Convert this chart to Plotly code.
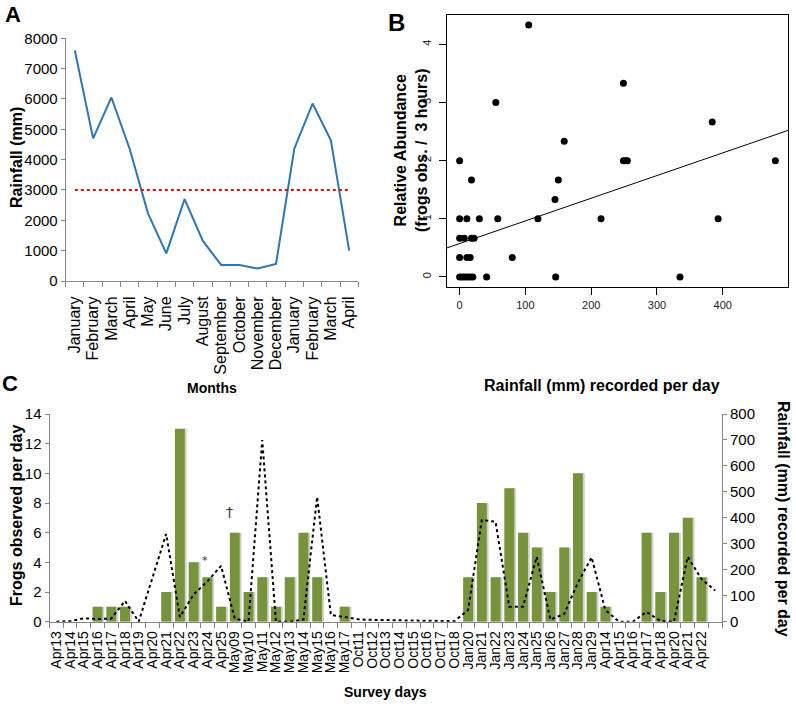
import plotly.graph_objects as go

W, H = 796, 711


def px(x):
    return x / W


def py(y):
    return 1 - y / H


# ---------------- Panel A data ----------------
months = ["January", "February", "March", "April", "May", "June", "July", "August",
          "September", "October", "November", "December", "January", "February", "March", "April"]
monthly_rain = [7600, 4700, 6050, 4350, 2230, 910, 2700, 1320, 530, 530, 410, 560, 4360, 5850, 4640, 1000]
rain_threshold = 3000

# ---------------- Panel B data ----------------
b_rain = [0, 0, 0, 0, 0, 4, 8, 12, 16, 20, 7, 11, 11, 16, 18, 18, 22, 30, 41, 55, 58, 80,
          105, 119, 145, 146, 150, 159, 215, 249, 249, 252, 255, 335, 384, 393, 480]
b_abund = [2, 1, 0.667, 0.333, 0, 0, 0, 0, 0, 0, 0.667, 1, 0.333, 0.333, 1.667, 0.667, 0.667, 1, 0, 3, 1, 0.333,
           4.333, 1, 1.333, 0, 1.667, 2.333, 1, 3.333, 2, 2, 2, 0, 2.667, 1, 2]
fit_intercept = 0.574
fit_slope = 0.0039
b_xticks = [0, 100, 200, 300, 400]
b_yticks = [0, 1, 2, 3, 4]

# ---------------- Panel C data ----------------
survey_days = ["Apr13", "Apr14", "Apr15", "Apr16", "Apr17", "Apr18", "Apr19", "Apr20", "Apr21", "Apr22",
               "Apr23", "Apr24", "Apr25", "May09", "May10", "May11", "May12", "May13", "May14", "May15",
               "May16", "May17", "Oct11", "Oct12", "Oct13", "Oct14", "Oct15", "Oct16", "Oct17", "Oct18",
               "Jan20", "Jan21", "Jan22", "Jan23", "Jan24", "Jan25", "Jan26", "Jan27", "Jan28", "Jan29",
               "Apr14", "Apr15", "Apr16", "Apr17", "Apr18", "Apr20", "Apr21", "Apr22"]
frogs_per_day = [0, 0, 0, 1, 1, 1, 0, 0, 2, 13, 4, 3, 1, 6, 2, 3, 1, 3, 6, 3, 0, 1,
                 0, 0, 0, 0, 0, 0, 0, 0,
                 3, 8, 3, 9, 6, 5, 2, 5, 10, 2,
                 1, 0, 0, 6, 2, 6, 7, 3]
# rainfall series has one extra (unlabelled) trailing point
rain_per_day = [0, 2, 13, 10, 12, 80, 0, 170, 338, 18, 105, 155, 215, 12, 0, 700, 0, 0, 8, 481, 26, 18,
                9, 7, 6, 4, 3, 2, 1, 2,
                45, 392, 385, 58, 58, 250, 8, 30, 150, 248,
                45, 0, 0, 38, 3, 0, 250, 165, 120]
marks = [("*", 10.83, 4.1), ("†", 12.58, 7.4)]

FONT = "Arial, Liberation Sans, sans-serif"
GRAY = "#868686"
GREEN = "#77933C"

fig = go.Figure()

# Panel A
xa = list(range(len(months)))
fig.add_trace(go.Scatter(x=xa, y=monthly_rain, mode="lines",
                         line=dict(color="#2E75B6", width=2), xaxis="x", yaxis="y", showlegend=False))
fig.add_trace(go.Scatter(x=[xa[0], xa[-1]], y=[rain_threshold, rain_threshold], mode="lines",
                         line=dict(color="#FF0000", width=2, dash="dot"), xaxis="x", yaxis="y",
                         showlegend=False))

# Panel B
bx_lo = min(b_rain) - 0.04 * (max(b_rain) - min(b_rain))
bx_hi = max(b_rain) + 0.04 * (max(b_rain) - min(b_rain))
by_lo = min(b_abund) - 0.04 * (max(b_abund) - min(b_abund))
by_hi = max(b_abund) + 0.04 * (max(b_abund) - min(b_abund))
fig.add_trace(go.Scatter(x=[bx_lo, bx_hi], y=[fit_intercept + fit_slope * bx_lo, fit_intercept + fit_slope * bx_hi],
                         mode="lines", line=dict(color="black", width=1), xaxis="x2", yaxis="y2",
                         showlegend=False))
fig.add_trace(go.Scatter(x=b_rain, y=b_abund, mode="markers",
                         marker=dict(color="black", size=7), xaxis="x2", yaxis="y2", showlegend=False))

# Panel C
xc = list(range(len(survey_days)))
xr = list(range(len(rain_per_day)))
fig.add_trace(go.Bar(x=xc, y=frogs_per_day, width=0.72, offset=-0.36 + 0.14,
                     marker=dict(color="rgba(150,150,150,0.45)", line=dict(width=0)),
                     xaxis="x3", yaxis="y3", showlegend=False, hoverinfo="skip"))
fig.add_trace(go.Bar(x=xc, y=frogs_per_day, width=0.72,
                     marker=dict(color=GREEN, line=dict(width=0)),
                     xaxis="x3", yaxis="y3", showlegend=False))
fig.add_trace(go.Scatter(x=xr, y=rain_per_day, mode="lines",
                         line=dict(color="black", width=2, dash="dot"),
                         xaxis="x3", yaxis="y4", showlegend=False))

common_font = dict(family=FONT, size=14, color="black")

fig.update_layout(
    width=W, height=H, margin=dict(l=0, r=0, t=0, b=0, autoexpand=False),
    paper_bgcolor="white", plot_bgcolor="white",
    font=common_font, barmode="overlay",
    xaxis=dict(domain=[px(65.7), px(358.3)], range=[-0.5, len(months) - 0.5], anchor="y", automargin=False,
               tickmode="array", tickvals=xa, ticktext=months, tickangle=-90,
               ticks="outside", ticklen=8, tickcolor="rgba(0,0,0,0)",
               showline=True, linecolor=GRAY, linewidth=1, showgrid=False, zeroline=False,
               minor=dict(tickmode="array", tickvals=[k - 0.5 for k in range(len(months) + 1)],
                          ticks="outside", ticklen=5, tickcolor=GRAY, showgrid=False),
               tickfont=dict(size=16)),
    yaxis=dict(domain=[py(281), py(38.3)], range=[0, 8000], dtick=1000, anchor="x", automargin=False,
               ticks="outside", ticklen=4, tickcolor=GRAY, showline=True, linecolor=GRAY,
               showgrid=False, zeroline=False, tickfont=dict(size=15)),
    xaxis2=dict(domain=[px(447), px(788)], range=[bx_lo, bx_hi], anchor="y2", automargin=False,
                tickmode="array", tickvals=b_xticks, ticks="outside", ticklen=7, tickcolor="black",
                showline=True, mirror=True, linecolor="black", linewidth=1, showgrid=False, zeroline=False,
                tickfont=dict(size=11, color="#222"), ticklabelstandoff=1),
    yaxis2=dict(domain=[py(287), py(15)], range=[by_lo, by_hi], anchor="x2", automargin=False,
                tickmode="array", tickvals=b_yticks, tickangle=-90, ticks="outside", ticklen=7,
                tickcolor="black", showline=True, mirror=True, linecolor="black", linewidth=1,
                showgrid=False, zeroline=False, tickfont=dict(size=11, color="#222"), ticklabelstandoff=4),
    xaxis3=dict(domain=[px(49.5), px(722)], range=[-0.5, len(rain_per_day) - 0.5], anchor="y3", automargin=False,
                tickmode="array", tickvals=xc, ticktext=survey_days, tickangle=-90,
                ticks="outside", ticklen=3, tickcolor="rgba(0,0,0,0)",
                showline=True, linecolor=GRAY, linewidth=1, showgrid=False, zeroline=False,
                minor=dict(tickmode="array", tickvals=[k - 0.5 for k in range(len(rain_per_day) + 1)],
                           ticks="outside", ticklen=5, tickcolor=GRAY, showgrid=False),
                tickfont=dict(size=14)),
    yaxis3=dict(domain=[py(621.7), py(414)], range=[0, 14], dtick=2, anchor="x3", automargin=False,
                ticks="outside", ticklen=4, tickcolor=GRAY, showline=True, linecolor=GRAY,
                showgrid=False, zeroline=False, tickfont=dict(size=15)),
    yaxis4=dict(domain=[py(621.7), py(414)], range=[0, 800], dtick=100, anchor="x3", automargin=False,
                overlaying="y3", side="right",
                ticks="outside", ticklen=4, tickcolor=GRAY, showline=True, linecolor=GRAY,
                showgrid=False, zeroline=False, tickfont=dict(size=15)),
)

ann = []


def txt(text, x, y, size=16, bold=True, angle=0, xanchor="center", yanchor="middle", xref="paper", yref="paper",
        color="black"):
    t = "<b>%s</b>" % text if bold else text
    ann.append(dict(text=t, x=x, y=y, xref=xref, yref=yref, showarrow=False, textangle=angle,
                    xanchor=xanchor, yanchor=yanchor, font=dict(family=FONT, size=size, color=color)))


txt("A", px(13), py(15), size=22)
txt("B", px(396), py(23), size=24)
txt("C", px(10), py(383), size=22)
txt("Rainfall (mm)", px(16), py(158), size=16, angle=-90)
txt("Months", px(212), py(388), size=14)
txt("Relative Abundance<br>(frogs obs. /  3 hours)", px(411), py(150), size=16, angle=-90)
txt("Rainfall (mm) recorded per day", px(602), py(386), size=16)
txt("Frogs observed per day", px(16), py(516), size=16, angle=-90)
txt("Rainfall (mm) recorded per day", px(784), py(519), size=16, angle=90)
txt("Survey days", px(385), py(692), size=14)
for sym, mx, my in marks:
    ann.append(dict(text=sym, x=mx, y=my, xref="x3", yref="y3", showarrow=False,
                    font=dict(family="DejaVu Sans, " + FONT, size=11 if sym == "*" else 14, color="#333")))
fig.update_layout(annotations=ann)

fig.write_html("out.html", config={"displayModeBar": False},
               post_script="document.body.style.margin='0px';")
